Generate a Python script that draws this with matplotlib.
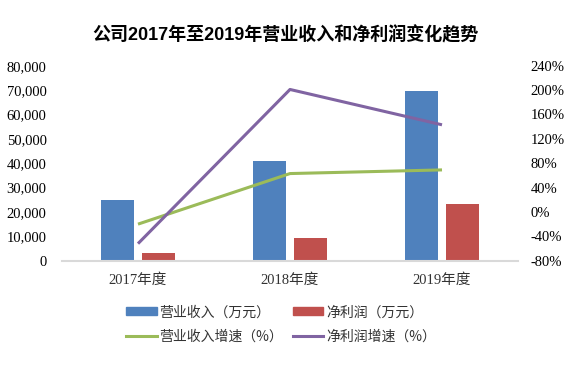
import matplotlib
matplotlib.use("Agg")
import matplotlib.pyplot as plt
import numpy as np
from matplotlib.patches import Patch
from matplotlib.lines import Line2D

categories = ["2017年度", "2018年度", "2019年度"]
revenue = [25000, 41000, 69800]          # 营业收入（万元）
net_profit = [3000, 9400, 23300]         # 净利润（万元）
revenue_growth = [-20, 63, 69]           # 营业收入增速（%）
profit_growth = [-52, 201, 143]          # 净利润增速（%）
left_ticks = [0, 10000, 20000, 30000, 40000, 50000, 60000, 70000, 80000]
right_ticks = [-80, -40, 0, 40, 80, 120, 160, 200, 240]

BLUE = "#4f81bd"
RED = "#c0504d"
GREEN = "#9bbb59"
PURPLE = "#8064a2"

plt.rcParams["font.family"] = ["Liberation Serif", "Noto Sans CJK SC"]
cjk = ["Noto Sans CJK SC", "DejaVu Sans"]

fig = plt.figure(figsize=(5.82, 3.71), dpi=100)
ax = fig.add_axes([62/582, 1-260.7/371, 456/582, 195/371])
ax2 = ax.twinx()

x = np.arange(len(categories))
w = 0.217
off = 0.138
ax.bar(x - off, revenue, w, color=BLUE, zorder=2)
ax.bar(x + off, net_profit, w, color=RED, zorder=2)
ax.set_xlim(-0.5, 2.5)
ax.set_ylim(0, 80000)
ax.set_yticks(left_ticks)
ax.set_yticklabels([f"{v:,}" for v in left_ticks], fontsize=10.5)
ax.set_xticks(x)
ax.set_xticklabels(categories, fontsize=10.5, color="#333333")
ax.tick_params(axis="both", length=0)
ax.tick_params(axis="y", pad=11)
ax.tick_params(axis="x", pad=9)
for s in ["top", "right", "left"]:
    ax.spines[s].set_visible(False)
ax.spines["bottom"].set_color("#d9d9d9")
ax.spines["bottom"].set_linewidth(1.5)

ax2.plot(x, revenue_growth, color=GREEN, lw=2.2, zorder=3, solid_capstyle="butt")
ax2.plot(x, profit_growth, color=PURPLE, lw=2.2, zorder=3, solid_capstyle="butt")
ax2.set_ylim(-80, 240)
ax2.set_yticks(right_ticks)
ax2.set_yticklabels([f"{v}%" for v in right_ticks], fontsize=10.5)
ax2.tick_params(axis="y", length=0, pad=9)
for s in ["top", "right", "left", "bottom"]:
    ax2.spines[s].set_visible(False)

fig.text(285/582, 1-35/371, "公司2017年至2019年营业收入和净利润变化趋势",
         ha="center", va="center", fontsize=13, fontweight="bold",
         family=["Liberation Sans", "Noto Sans CJK SC"])

h_rev = Patch(color=BLUE)
h_np = Patch(color=RED)
h_rg = Line2D([], [], color=GREEN, lw=2.2)
h_pg = Line2D([], [], color=PURPLE, lw=2.2)
handles = [h_rev, h_rg, h_np, h_pg]
labels = ["营业收入（万元）", "营业收入增速（%）", "净利润（万元）", "净利润增速（%）"]
leg = fig.legend(handles, labels, ncol=2, loc="center", bbox_to_anchor=(281/582, 1-324.5/371),
                 frameon=False, prop={"family": cjk, "size": 10}, handlelength=2.2,
                 handleheight=0.5, handletextpad=0.2, columnspacing=0.7, labelspacing=0.75,
                 borderpad=0.2)
for t in leg.get_texts():
    t.set_color("#333333")

fig.savefig("out.png", dpi=100)
